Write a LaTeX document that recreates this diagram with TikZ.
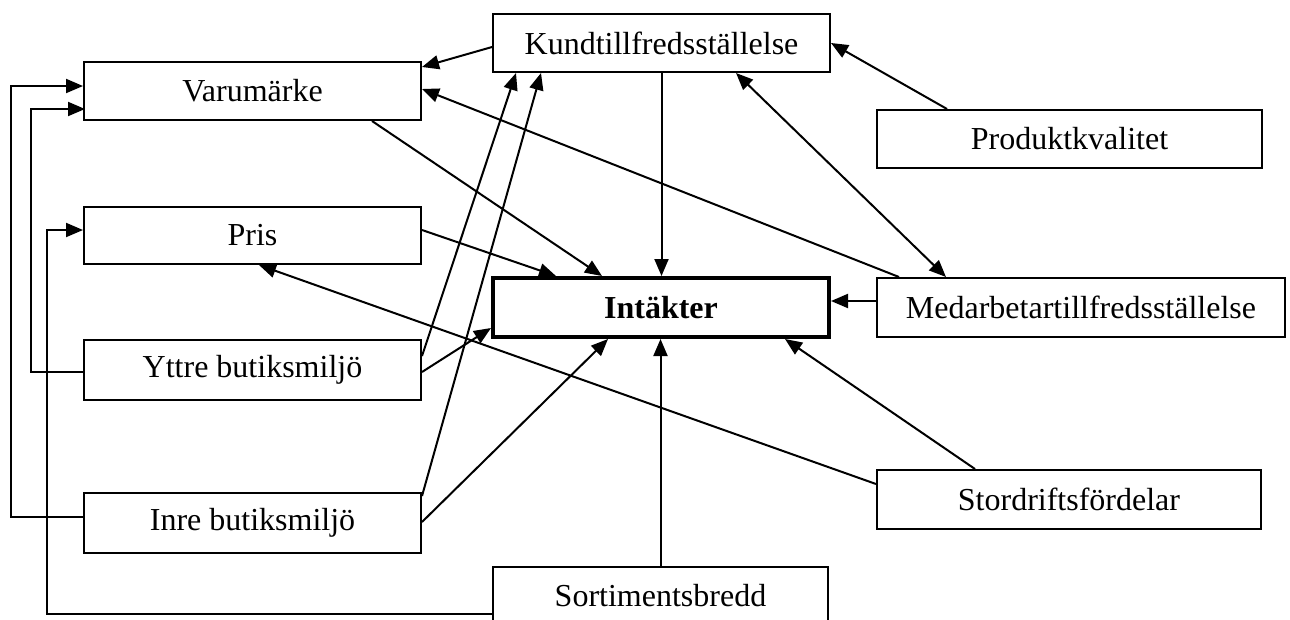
\documentclass[tikz,border=0pt]{standalone}
\usepackage{fontspec}
\setmainfont{Liberation Serif}
\usetikzlibrary{arrows.meta,calc}
\begin{document}
\begin{tikzpicture}[x=1pt,y=-1pt,
  box/.style={draw,line width=2pt,rectangle,inner sep=0pt,font=\fontsize{32pt}{38pt}\selectfont},
  conn/.style={line width=2pt,-{Triangle[length=17pt,width=14pt]}},
  both/.style={line width=2pt,{Triangle[length=17pt,width=14pt]}-{Triangle[length=17pt,width=14pt]}},
  ]
\useasboundingbox (0,0) rectangle (1290,619);
% boxes
\node[box,minimum width=337pt,minimum height=58pt] (kund) at (661.5,43) {Kundtillfredsställelse};
\node[box,minimum width=337pt,minimum height=58pt] (varu) at (252.5,91) {Varumärke};
\node[box,minimum width=385pt,minimum height=58pt] (prod) at (1069.5,139) {Produktkvalitet};
\node[box,minimum width=337pt,minimum height=57pt] (pris) at (252.5,235.5) {Pris};
\node[box,line width=4pt,minimum width=336pt,minimum height=59pt,font=\fontsize{32pt}{38pt}\selectfont\bfseries] (int) at (661,307.5) {Intäkter};
\node[box,minimum width=408pt,minimum height=59pt] (med) at (1081,307.5) {Medarbetartillfredsställelse};
\node[box,minimum width=337pt,minimum height=60pt] (ytt) at (252.5,370) {Yttre butiksmiljö};
\node[box,minimum width=337pt,minimum height=60pt] (inre) at (252.5,523) {Inre butiksmiljö};
\node[box,minimum width=384pt,minimum height=59pt] (stor) at (1069,499.5) {Stordriftsfördelar};
\node[box,minimum width=335pt,minimum height=58pt] (sort) at (660.5,596) {Sortimentsbredd};
% connectors
\draw[conn] ($(kund.north west)+(0,34)$) -- ($(varu.north east)+(0,6)$);
\draw[conn] ($(med.north west)+(23,0)$) -- ($(varu.north east)+(0,28)$);
\draw[conn] ($(varu.south west)+(289,0)$) -- ($(int.north west)+(111,0)$);
\draw[conn] ($(pris.north east)+(0,24)$) -- ($(int.north west)+(65,0)$);
\draw[conn] (kund.south) -- (kund.south |- int.north);
\draw[conn] ($(prod.north west)+(71,0)$) -- (kund.east);
\draw[both] ($(kund.south west)+(244,0)$) -- ($(med.north west)+(70,0)$);
\draw[conn] ($(med.north west)+(0,24)$) coordinate (mw) -- (mw -| int.east);
\draw[conn] ($(stor.north west)+(99,0)$) -- ($(int.south west)+(294,0)$);
\draw[conn] ($(stor.north west)+(0,15)$) -- ($(pris.south west)+(176,0)$);
\draw[conn] (sort.north) -- (sort.north |- int.south);
\draw[conn] ($(ytt.north east)+(0,33)$) -- ($(int.south west)+(0,-11)$);
\draw[conn] ($(ytt.north east)+(0,17)$) -- ($(kund.south west)+(24,0)$);
\draw[conn] ($(inre.north east)+(0,4)$) -- ($(kund.south west)+(49,0)$);
\draw[conn] ($(inre.north east)+(0,30)$) -- ($(int.south west)+(117,0)$);
% feedback loops on the left
\draw[conn] ($(inre.north west)+(0,25)$) -- ++(-72,0) |- ($(varu.north west)+(0,25)$);
\draw[conn] ($(ytt.north west)+(0,33)$) -- ++(-52,0) |- ($(varu.north west)+(2,48)$);
\draw[conn] ($(sort.north west)+(0,48)$) -- ++(-445,0) |- ($(pris.north west)+(0,24)$);
\end{tikzpicture}
\end{document}
